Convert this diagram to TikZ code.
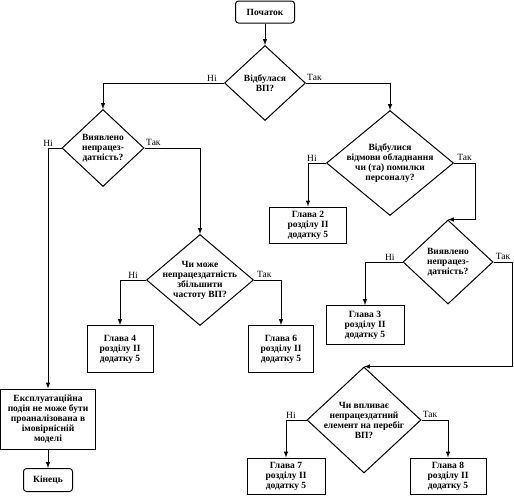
\documentclass[tikz,border=0pt]{standalone}
\usepackage{fontspec}
\setmainfont{Liberation Serif}
\usetikzlibrary{arrows, shapes.geometric}

\begin{document}
\begin{tikzpicture}[x=1pt, y=-1pt, line width=1pt, >=latex,
        blok/.style={draw, rectangle, inner sep=0pt, align=center, font=\fontsize{9.5}{10}\selectfont\bfseries},
        poch/.style={blok, rounded corners=3pt},
        romb/.style={draw, diamond, inner sep=-12pt, align=center, font=\fontsize{9.5}{10}\selectfont\bfseries},
        napys/.style={anchor=south, inner sep=1.5pt, font=\fontsize{9.5}{10}\selectfont}]
        \useasboundingbox (0,0) rectangle (514,496);

        \node[poch, minimum width=59pt, minimum height=22pt] (start) at (265,12) {Початок};
        \node[romb, minimum width=81pt, minimum height=75pt] (d1) at (265,83) {Відбулася\\ВП?};
        \node[romb, minimum width=82pt, minimum height=77pt] (d2) at (103,148) {Виявлено\\непрацез-\\датність?};
        \node[romb, minimum width=127pt, minimum height=105pt] (d3) at (390,163) {Відбулися\\відмови обладнання\\чи (та) помилки\\персоналу?};
        \node[romb, minimum width=107pt, minimum height=91pt] (d4) at (200,280) {Чи може\\непрацездатність\\збільшити\\частоту ВП?};
        \node[romb, minimum width=90pt, minimum height=84pt] (d5) at (448,262) {Виявлено\\непрацез-\\датність?};
        \node[romb, minimum width=114pt, minimum height=106pt] (d6) at (364,420) {Чи впливає\\непрацездатний\\елемент на перебіг\\ВП?};

        \node[blok, minimum width=77pt, minimum height=36pt] (g2) at (308,225) {Глава 2\\розділу II\\додатку 5};
        \node[blok, minimum width=78pt, minimum height=39pt] (g3) at (365,325) {Глава 3\\розділу II\\додатку 5};
        \node[blok, minimum width=66pt, minimum height=47pt] (g4) at (120,349) {Глава 4\\розділу II\\додатку 5};
        \node[blok, minimum width=65pt, minimum height=47pt] (g6) at (281,349) {Глава 6\\розділу II\\додатку 5};
        \node[blok, minimum width=78pt, minimum height=36pt] (g7) at (286,476) {Глава 7\\розділу II\\додатку 5};
        \node[blok, minimum width=76pt, minimum height=36pt] (g8) at (448,476) {Глава 8\\розділу II\\додатку 5};
        \node[blok, minimum width=95pt, minimum height=60pt] (ekspl) at (48,419) {Експлуатаційна\\подія не може бути\\проаналізована в\\імовірнісній\\моделі};
        \node[poch, minimum width=49pt, minimum height=23pt] (kin) at (48,480) {Кінець};

        \draw[->] (start) -- (d1);
        \draw[->] (d1.west) -| node[napys, pos=0.05] {Ні} (d2.north);
        \draw[->] (d1.east) -| node[napys, pos=0.05] {Так} (d3.north);
        \draw[->] (d2.west) -| node[napys, pos=0.5] {Ні} (ekspl.north);
        \draw[->] (d2.east) -| node[napys, pos=0.08] {Так} (d4.north);
        \draw[->] (d3.west) -| node[napys, pos=0.39] {Ні} (g2.north);
        \draw[->] (d3.east) -- node[napys] {Так} ++(21,0) |- (d5.north);
        \draw[->] (d4.west) -| node[napys, pos=0.25] {Ні} (g4.north);
        \draw[->] (d4.east) -| node[napys, pos=0.19] {Так} (g6.north);
        \draw[->] (d5.west) -| node[napys, pos=0.17] {Ні} (g3.north);
        \draw[->] (d5.east) -- node[napys] {Так} ++(19,0) |- (d6.north);
        \draw[->] (d6.west) -| node[napys, pos=0.38] {Ні} (g7.north);
        \draw[->] (d6.east) -| node[napys, pos=0.16] {Так} (g8.north);
        \draw[->] (ekspl) -- (kin);
\end{tikzpicture}
\end{document}
